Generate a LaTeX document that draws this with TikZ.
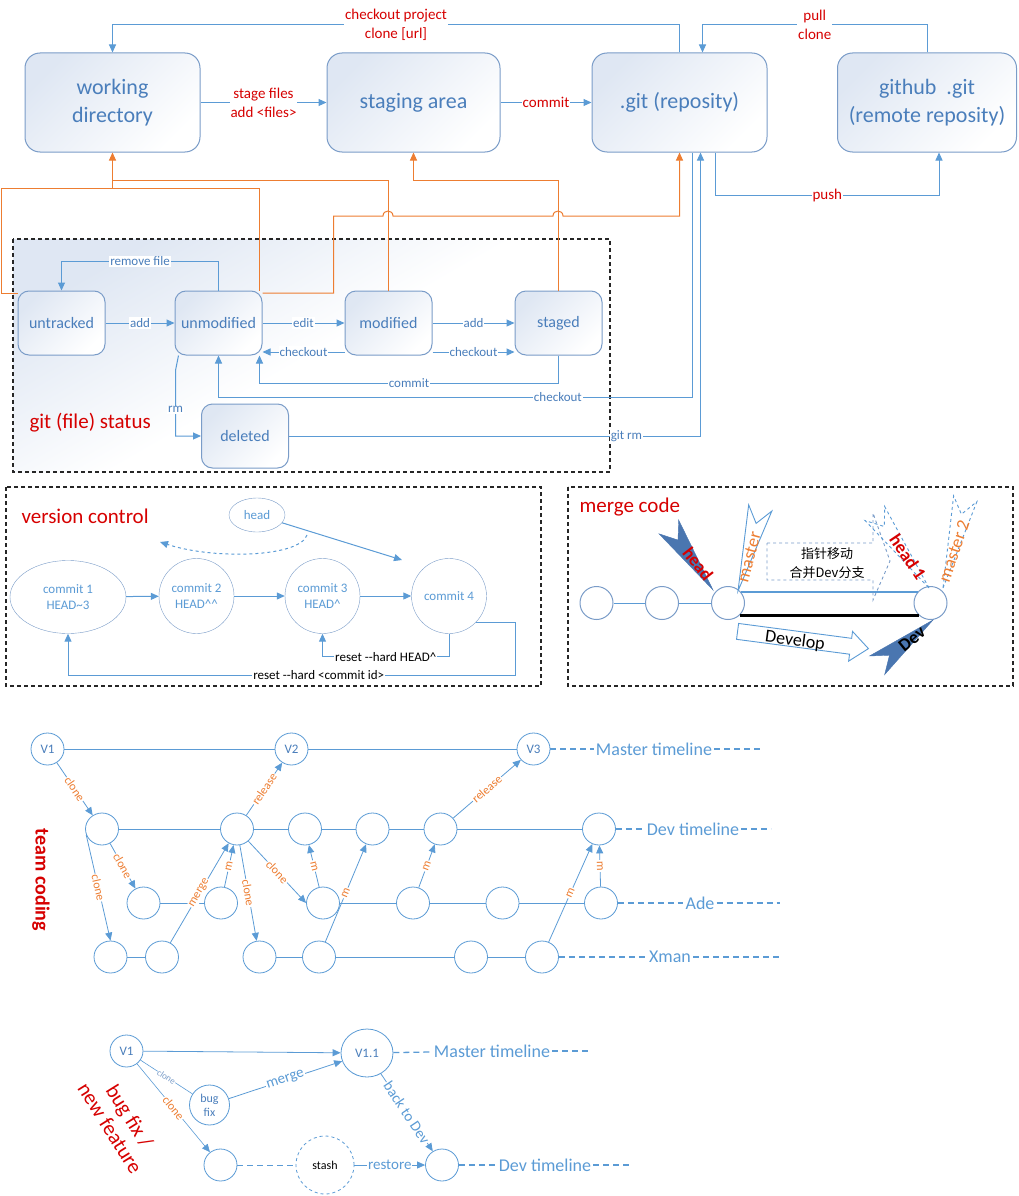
\documentclass[tikz,border=0pt]{standalone}
\usepackage{fontspec}
\setmainfont{Carlito}
\newfontfamily\cjk{Noto Sans CJK SC}
\usetikzlibrary{arrows.meta, shapes.geometric}
\definecolor{lineblue}{HTML}{5B9BD5}
\definecolor{boxline}{HTML}{7A9CC8}
\definecolor{boxtext}{HTML}{4A7EBB}
\definecolor{tint}{HTML}{DFE7F3}
\definecolor{orangeline}{HTML}{ED7D31}
\definecolor{labelred}{HTML}{D60000}
\definecolor{darkpointer}{HTML}{4A76B0}

\tikzset{
  areabox/.style={draw=boxline, line width=1pt, rounded corners=15pt, top color=tint, bottom color=white, shading angle=45, text=boxtext, align=center, minimum height=99, font=\fontsize{22}{28}\selectfont},
  statusbox/.style={areabox, rounded corners=11pt, minimum width=87, minimum height=64, font=\fontsize{16}{19}\selectfont},
  flow/.style={draw=lineblue, line width=1pt, -{Triangle[length=8pt,width=7pt]}},
  bline/.style={draw=lineblue, line width=1pt},
  oline/.style={draw=orangeline, line width=1pt},
  oflow/.style={oline, -{Triangle[length=8pt,width=7pt]}},
  redlabel/.style={text=labelred, fill=white, inner sep=1pt, align=center, font=\fontsize{15}{19}\selectfont},
  slabel/.style={text=boxtext, fill=white, inner sep=1pt, font=\fontsize{13}{15}\selectfont},
  vlabel/.style={text=black, fill=white, inner sep=1pt, font=\fontsize{13}{15}\selectfont},
  areatitle/.style={text=labelred, anchor=west, font=\fontsize{21}{24}\selectfont},
  dashframe/.style={draw=black!85, line width=1.2pt, dash pattern=on 4pt off 3pt},
  commit/.style={ellipse, draw=boxline, fill=white, inner sep=0pt, minimum width=75, minimum height=75, text=lineblue, align=center, font=\fontsize{13}{16}\selectfont},
  mnode/.style={circle, draw=boxline, fill=white, line width=1pt, minimum size=33, inner sep=0pt},
  ptext/.style={inner sep=0pt, font=\bfseries\fontsize{18}{20}\selectfont},
  pics/pointer/.style={code={\path[pic actions] (0,0) -- (-#1,-12) -- (-#1+16,0) -- (-#1,12) -- cycle;}},
  tnode/.style={ellipse, draw=lineblue, fill=white, line width=0.8pt, minimum width=33, minimum height=32, inner sep=0pt, text=boxtext, font=\fontsize{13}{15}\selectfont},
  tlname/.style={text=lineblue, inner sep=2pt, font=\fontsize{18}{20}\selectfont},
  tdash/.style={draw=lineblue, line width=1.3pt, dash pattern=on 6pt off 4pt},
  olabel/.style={text=orangeline, fill=white, inner sep=1pt, sloped, font=\fontsize{12}{14}\selectfont},
  blabel/.style={text=lineblue, fill=white, inner sep=1pt, font=\fontsize{15}{17}\selectfont}
}

\begin{document}
\begin{tikzpicture}[x=1pt, y=-1pt]
\useasboundingbox (0,0) rectangle (1019,1196);

% working areas
\node[areabox, minimum width=175] (wd) at (112.5,102.5) {working\\directory};
\node[areabox, minimum width=173] (stage) at (413.5,102.5) {staging area};
\node[areabox, minimum width=175] (git) at (679.5,102.5) {.git (reposity)};
\node[areabox, minimum width=179] (hub) at (927,102.5) {github~~.git\\(remote reposity)};

\draw[flow] (git.north) -- ++(0,-28) -| node[redlabel, pos=0.25] {checkout project\\clone [url]} (wd.north);
\draw[flow] (hub.north) -- ++(0,-28) -| node[redlabel, pos=0.25] {pull\\clone} ([xshift=23pt]git.north);
\draw[flow] (wd) -- node[redlabel] {stage files\\add <files>} (stage);
\draw[flow] (stage) -- node[redlabel] {commit} (git);
\draw[flow] ([xshift=36pt]git.south) -- ++(0,43) -| node[redlabel, pos=0.25] {push} ([xshift=12pt]hub.south);

% git (file) status
\draw[dashframe, top color=tint, bottom color=white, middle color=white, shading angle=30] (13,239) rectangle (610,472);
\node[statusbox] (untracked) at (61.5,323) {untracked};
\node[statusbox] (unmodified) at (218.5,323) {unmodified};
\node[statusbox] (modified) at (388.5,323) {modified};
\node[statusbox] (staged) at (558.5,323) {staged};
\node[statusbox] (deleted) at (245,436) {deleted};
\node[areatitle] (statustitle) at (26,423) {git (file) status};

\draw[flow] (unmodified.north) -- ++(0,-29) -| node[slabel, pos=0.25] {remove file} (untracked.north);
\draw[flow] (untracked) -- node[slabel] {add} (unmodified);
\draw[flow] (unmodified) -- node[slabel] {edit} (modified);
\draw[flow] (modified) -- node[slabel] {add} (staged);
\draw[flow] ([yshift=-29pt]modified.west) -- node[slabel] {checkout} ([yshift=-29pt]unmodified.east);
\draw[flow] ([yshift=-29pt]modified.east) -- node[slabel] {checkout} ([yshift=-29pt]staged.west);
\draw[flow] (staged.south) -- ++(0,28) -| node[slabel, pos=0.25] {commit} ([xshift=41pt]unmodified.south);
\draw[flow] ([xshift=13pt]git.south) -- ++(0,245) -| node[slabel, pos=0.142] {checkout} (unmodified.south);
\draw[flow] (deleted) -| node[slabel, pos=0.41] {git rm} ([xshift=21pt]git.south);
\draw[flow] ([xshift=-40pt]unmodified.south) -- ++(-3,15) |- node[slabel, pos=0.3] {rm} (deleted);

% orange: back to the areas
\coordinate (wdjoin) at (112.5,188);
\draw[oline] ([yshift=30pt]untracked.west) -| (1,188) -| ([xshift=41pt]unmodified.north);
\draw[oline] (modified.north) -- ++(0,-110) -| (wdjoin);
\draw[oflow] (wdjoin) -- (wd.south);
\draw[oflow] (staged.north) -- ++(0,-110) -| (stage.south);
\draw[oflow] ([yshift=30pt]unmodified.east) -- ++(71,0) |- (383,216)
  to[out=90, in=90, looseness=1.7] (393,216) -- (553,216)
  to[out=90, in=90, looseness=1.7] (563,216) -| (git.south);

% version control
\draw[dashframe] (6,487) rectangle (541,686);
\node[areatitle] (vctitle) at (18,516) {version control};
\node[commit, minimum width=116, minimum height=73] (c1) at (68,597) {commit 1\\HEAD\textasciitilde3};
\node[commit] (c2) at (196.5,596) {commit 2\\HEAD\textasciicircum\textasciicircum};
\node[commit] (c3) at (322.5,596) {commit 3\\HEAD\textasciicircum};
\node[commit] (c4) at (449,596) {commit 4};
\node[commit, minimum width=56, minimum height=34] (headv) at (257,515) {head};
\coordinate (headtip) at (402,560);
\coordinate (headold) at (307,535);
\coordinate (headback) at (160,542);
\draw[flow] (c1) -- (c2);
\draw[flow] (c2) -- (c3);
\draw[flow] (c3) -- (c4);
\draw[flow] (headv) -- (headtip);
\draw[flow, dashed] (headold) .. controls (300,557) and (215,560) .. (headback);
\draw[flow] (c4.south) -- ++(0,23) -| node[vlabel, pos=0.25] {reset -{}-hard HEAD\textasciicircum} (c3.south);
\draw[flow] (c4.-45) -- ++(40,0) -- ++(0,52.5) -| node[vlabel, pos=0.22] {reset -{}-hard <commit id>} (c1.south);

% merge code
\draw[dashframe] (568,487) rectangle (1013,686);
\node[areatitle] (mctitle) at (576,507) {merge code};
\node[mnode] (m1) at (596.5,603) {};
\node[mnode] (m2) at (662,603) {};
\node[mnode] (m3) at (728,603) {};
\node[mnode] (m4) at (930.5,603) {};
\draw[bline] (m1) -- (m2);
\draw[bline] (m2) -- (m3);
\draw[bline, line width=2pt] (m3.42) -- (m4.138);
\draw[line width=3pt] (m3.-47) -- (m4.227);
\draw[draw=boxline, dashed, line width=0.9pt] (767,543) -- (873,543) -- (873,513) -- (890,561) -- (873,600) -- (873,580) -- (767,580) -- cycle;
\node[inner sep=0pt, align=center, font=\cjk\fontsize{13}{19}\selectfont] (movenote) at (827,563) {指针移动\\合并Dev分支};
\begin{scope}[shift={(803,640)}, rotate=-7.5]
  \draw[draw=lineblue, fill=white, line width=0.9pt] (-66,-8) -- (48,-8) -- (48,-15) -- (66,0) -- (48,15) -- (48,8) -- (-66,8) -- cycle;
\end{scope}
\node[rotate=-7.5, inner sep=0pt, font=\fontsize{18}{20}\selectfont] (develop) at (795,641) {Develop};
\pic[draw=darkpointer, fill=darkpointer, rotate=-55] at (713,590) {pointer=77};
\node[ptext, text=labelred, rotate=-52] (headmark) at (698,564) {head};
\pic[draw=lineblue, fill=white, line width=0.9pt, rotate=-105] at (738,591) {pointer=86};
\node[ptext, text=orangeline, font=\fontsize{18}{20}\selectfont, rotate=75] (mastermark) at (749,557) {master};
\pic[draw=lineblue, dashed, line width=0.9pt, rotate=-54] at (929,588) {pointer=92};
\node[ptext, text=labelred, rotate=-56] (head1mark) at (908,557) {head 1};
\pic[draw=lineblue, dashed, line width=0.9pt, rotate=-104] at (943,588) {pointer=92};
\node[ptext, text=orangeline, font=\fontsize{18}{20}\selectfont, rotate=71] (master2mark) at (954,551) {master 2};
\pic[draw=darkpointer, fill=darkpointer, rotate=39] at (933,620) {pointer=72};
\node[ptext, rotate=39] (devmark) at (912,639) {Dev};

% team coding
\node[text=labelred, rotate=-90, font=\bfseries\fontsize{20}{24}\selectfont] (teamtitle) at (41,880) {team coding};
\node[tnode] (V1) at (47.5,749) {V1};
\node[tnode] (V2) at (291.5,749) {V2};
\node[tnode] (V3) at (533.5,749) {V3};
\node[tnode] (d1) at (102,829) {};
\node[tnode] (d2) at (237,829) {};
\node[tnode] (d3) at (305,829) {};
\node[tnode] (d4) at (372.5,829) {};
\node[tnode] (d5) at (440.5,829) {};
\node[tnode] (d6) at (599,829) {};
\node[tnode] (a1) at (143.5,903) {};
\node[tnode] (a2) at (221,903) {};
\node[tnode] (a3) at (323,903) {};
\node[tnode] (a4) at (413,903) {};
\node[tnode] (a5) at (502.5,903) {};
\node[tnode] (a6) at (601,903) {};
\node[tnode] (x1) at (110.5,957) {};
\node[tnode] (x2) at (162,957) {};
\node[tnode] (x3) at (259.5,957) {};
\node[tnode] (x4) at (319,957) {};
\node[tnode] (x5) at (471,957) {};
\node[tnode] (x6) at (542,957) {};

\draw[bline] (V1) -- (V2) -- (V3);
\draw[bline] (d1) -- (d2) -- (d3) -- (d4) -- (d5) -- (d6);
\draw[bline] (a1) -- (a2);
\draw[bline] (a3) -- (a4) -- (a5) -- (a6);
\draw[bline] (x1) -- (x2);
\draw[bline] (x3) -- (x4) -- (x5) -- (x6);

\node[tlname] (mtl) at (654,749) {Master timeline};
\node[tlname] (dtl) at (693,829) {Dev timeline};
\node[tlname] (atl) at (700,903) {Ade};
\node[tlname] (xtl) at (670,957) {Xman};
\draw[tdash] (V3) -- (mtl);
\draw[tdash] (mtl.east) -- ++(47,0);
\draw[tdash] (d6) -- (dtl);
\draw[tdash] (dtl.east) -- ++(30,0);
\draw[tdash] (a6) -- (atl);
\draw[tdash] (atl.east) -- ++(63,0);
\draw[tdash] (x6) -- (xtl);
\draw[tdash] (xtl.east) -- ++(86,0);

\draw[flow, line width=0.8pt] (V1) -- node[olabel] {clone} (d1);
\draw[flow, line width=0.8pt] (d2) -- node[olabel] {release} (V2);
\draw[flow, line width=0.8pt] (d5) -- node[olabel] {release} (V3);
\draw[flow, line width=0.8pt] (d1) -- node[olabel] {clone} (a1);
\draw[flow, line width=0.8pt] (d1.200) -- node[olabel] {clone} (x1.north);
\draw[flow, line width=0.8pt] (x2) -- node[olabel] {merge} (d2);
\draw[flow, line width=0.8pt] (a2) -- node[olabel] {m} (d2);
\draw[flow, line width=0.8pt] (d2) -- node[olabel] {clone} (x3);
\draw[flow, line width=0.8pt] (d2) -- node[olabel] {clone} (a3.west);
\draw[flow, line width=0.8pt] (a3) -- node[olabel] {m} (d3);
\draw[flow, line width=0.8pt] (x4) -- node[olabel] {m} (d4);
\draw[flow, line width=0.8pt] (a4) -- node[olabel] {m} (d5);
\draw[flow, line width=0.8pt] (x6) -- node[olabel] {m} (d6);
\draw[flow, line width=0.8pt] (a6) -- node[olabel] {m} (d6);

% bug fix / new feature
\node[text=labelred, rotate=-58, align=center, font=\fontsize{21}{23}\selectfont] (bugtitle) at (120,1122) {bug fix /\\new feature};
\node[tnode] (bV1) at (126.5,1051) {V1};
\node[tnode, minimum width=52, minimum height=48] (bV11) at (367,1053) {V1.1};
\node[tnode, minimum width=40, minimum height=40, align=center, font=\fontsize{12}{14}\selectfont] (bfix) at (209.5,1105) {bug\\fix};
\node[tnode] (bnew) at (220.5,1165) {};
\node[tnode, dashed, minimum width=58, minimum height=58, text=black, font=\fontsize{12}{14}\selectfont] (stash) at (325,1165) {stash};
\node[tnode] (bdev) at (442,1165) {};
\node[tlname] (bmtl) at (492,1051) {Master timeline};
\node[tlname] (bdtl) at (545,1165) {Dev timeline};
\draw[tdash] (bV11) -- (bmtl);
\draw[tdash] (bmtl.east) -- ++(38,0);
\draw[tdash] (bdev) -- (bdtl);
\draw[tdash] (bdtl.east) -- ++(38,0);

\draw[flow, line width=0.8pt] (bV1) -- (bV11);
\draw[bline, line width=0.6pt] (bV1) -- node[sloped, text=boxline, fill=white, inner sep=0.5pt, font=\fontsize{9}{10}\selectfont] {clone} (bfix);
\draw[flow, line width=0.6pt] (bV1) -- node[olabel] {clone} (bnew);
\draw[flow, line width=0.8pt] (bfix) -- node[blabel, sloped] {merge} (bV11);
\draw[flow, line width=0.8pt] (bV11) -- node[blabel, sloped] {back to Dev} (bdev);
\draw[tdash, line width=1pt] (bnew) -- (stash);
\draw[flow, line width=0.8pt] (stash) -- node[blabel] {restore} (bdev);
\end{tikzpicture}
\end{document}
